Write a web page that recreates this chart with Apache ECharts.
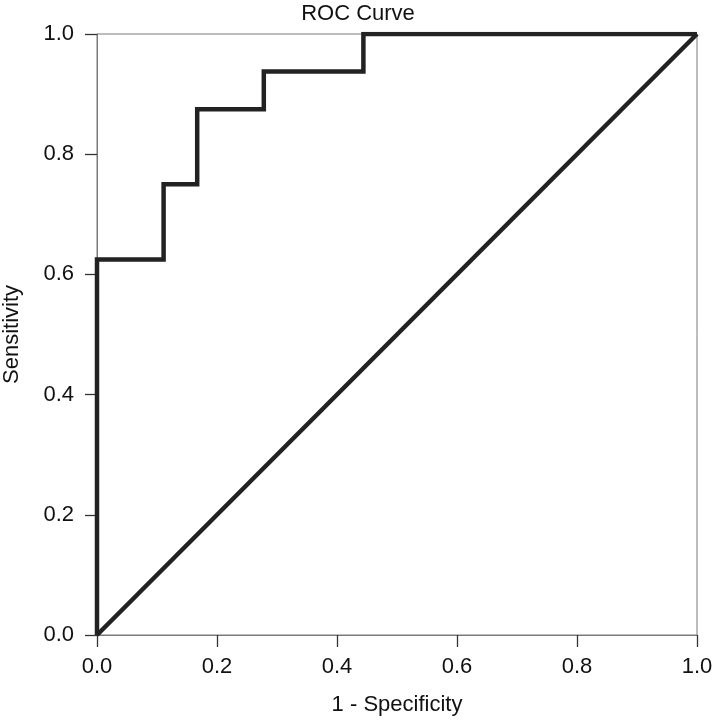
<!DOCTYPE html>
<html>
<head>
<meta charset="utf-8">
<script src="https://cdn.jsdelivr.net/npm/echarts@6/dist/echarts.min.js"></script>
<style>
html, body { margin: 0; padding: 0; background: #fff; }
#container { width: 716px; height: 720px; }
</style>
</head>
<body>
<div id="container"></div>
<script>
// ROC steps (1 - specificity, sensitivity)
var rocFpr = [0, 0, 0.111, 0.111, 0.167, 0.167, 0.278, 0.278, 0.444, 0.444, 1.0];
var rocTpr = [0, 0.625, 0.625, 0.75, 0.75, 0.875, 0.875, 0.9375, 0.9375, 1.0, 1.0];
var refX = [0, 1];
var refY = [0, 1];
var tickLabels = ['0.0', '0.2', '0.4', '0.6', '0.8', '1.0'];

let chart = echarts.init(document.getElementById('container'));
var fontFam = '"Liberation Sans", Arial, sans-serif';

function pairs(xs, ys) {
    var out = [];
    for (var i = 0; i < xs.length; i++) { out.push([xs[i], ys[i]]); }
    return out;
}

function makeAxis(extra) {
    var ax = {
        type: 'value',
        min: 0,
        max: 1,
        interval: 0.2,
        splitLine: { show: false },
        axisLine: { show: true, onZero: false, lineStyle: { color: '#7a7a7a', width: 1 } },
        axisTick: { show: true, inside: false, length: 12, interval: 0, lineStyle: { color: '#333', width: 1.3 } },
        axisLabel: {
            show: true,
            color: '#111',
            fontSize: 22,
            fontFamily: fontFam,
            formatter: function (v) { return tickLabels[Math.round(v * 5)]; }
        },
        nameTextStyle: { color: '#111', fontSize: 22, fontFamily: fontFam }
    };
    for (var k in extra) { ax[k] = extra[k]; }
    return ax;
}

var option = {
    animation: false,
    title: {
        text: 'ROC Curve',
        left: 'center',
        top: -2,
        textStyle: { color: '#111', fontSize: 22, fontWeight: 'normal', fontFamily: fontFam }
    },
    grid: {
        left: 97,
        right: 19,
        top: 34,
        bottom: 85,
        outerBoundsMode: 'none',
        containLabel: false,
        show: true,
        borderColor: '#7a7a7a',
        borderWidth: 1
    },
    xAxis: makeAxis({ name: '1 - Specificity', nameLocation: 'middle', nameGap: 59 }),
    yAxis: makeAxis({ name: 'Sensitivity', nameLocation: 'middle', nameGap: 74 }),
    series: [
        {
            type: 'line',
            data: pairs(refX, refY),
            showSymbol: false,
            symbol: 'none',
            lineStyle: { color: '#222', width: 4.5 }
        },
        {
            type: 'line',
            data: pairs(rocFpr, rocTpr),
            showSymbol: false,
            symbol: 'none',
            lineStyle: { color: '#222', width: 4.5, join: 'miter' }
        }
    ]
};
option.xAxis.axisLabel.margin = 21;
option.yAxis.axisLabel.margin = 23;

chart.setOption(option);
</script>
</body>
</html>
